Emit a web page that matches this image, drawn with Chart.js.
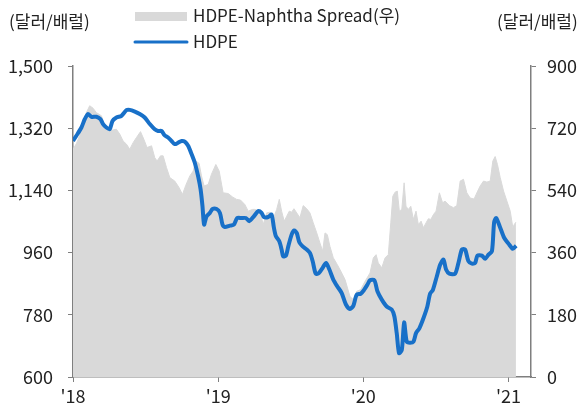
<!DOCTYPE html>
<html>
<head>
<meta charset="utf-8">
<script src="https://cdn.jsdelivr.net/npm/chart.js@4"></script>
<style>
  body { margin: 0; background: #fff; }
  #wrap { width: 585px; height: 409px; position: relative; }
</style>
</head>
<body>
<div id="wrap"><canvas id="myChart" width="585" height="409"></canvas></div>
<script>
'use strict';

// ***** DATA (x = decimal year) *****
let hdpeDates = [
  2018.000, 2018.023, 2018.058, 2018.081, 2018.103, 2018.127, 2018.161, 2018.189, 2018.207, 2018.230,
  2018.253, 2018.272, 2018.299, 2018.334, 2018.368, 2018.391, 2018.426, 2018.460, 2018.494, 2018.529,
  2018.563, 2018.586, 2018.610, 2018.630, 2018.655, 2018.679, 2018.701, 2018.724, 2018.748, 2018.770,
  2018.793, 2018.817, 2018.839, 2018.862, 2018.879, 2018.892, 2018.903, 2018.920, 2018.943, 2018.961,
  2018.989, 2019.012, 2019.030, 2019.046, 2019.081, 2019.108, 2019.131, 2019.161, 2019.191, 2019.214,
  2019.246, 2019.276, 2019.299, 2019.315, 2019.345, 2019.368, 2019.384, 2019.398, 2019.421, 2019.437,
  2019.448, 2019.467, 2019.483, 2019.506, 2019.524, 2019.541, 2019.559, 2019.582, 2019.610, 2019.632,
  2019.651, 2019.672, 2019.694, 2019.720, 2019.743, 2019.766, 2019.793, 2019.821, 2019.851, 2019.881,
  2019.908, 2019.931, 2019.954, 2019.982, 2020.005, 2020.028, 2020.046, 2020.076, 2020.097, 2020.127,
  2020.161, 2020.196, 2020.214, 2020.230, 2020.246, 2020.265, 2020.281, 2020.299, 2020.322, 2020.345,
  2020.363, 2020.386, 2020.414, 2020.441, 2020.460, 2020.479, 2020.506, 2020.529, 2020.552, 2020.570,
  2020.593, 2020.632, 2020.655, 2020.679, 2020.701, 2020.724, 2020.748, 2020.770, 2020.786, 2020.817,
  2020.839, 2020.862, 2020.886, 2020.901, 2020.915, 2020.943, 2020.970, 2021.000, 2021.030, 2021.053
];
let hdpeValues = [
  1283, 1298, 1322, 1346, 1361, 1353, 1353, 1346, 1332, 1322,
  1317, 1341, 1351, 1356, 1372, 1373, 1368, 1361, 1351, 1332,
  1317, 1312, 1312, 1300, 1293, 1283, 1274, 1278, 1283, 1281,
  1269, 1245, 1220, 1181, 1143, 1094, 1041, 1065, 1075, 1086,
  1086, 1075, 1041, 1034, 1038, 1041, 1060, 1060, 1060, 1051,
  1065, 1080, 1075, 1063, 1063, 1070, 1032, 1007, 993, 969,
  949, 951, 978, 1012, 1024, 1017, 990, 978, 969, 959,
  935, 899, 901, 916, 930, 911, 882, 862, 843, 809,
  797, 806, 838, 841, 852, 867, 880, 880, 848, 824,
  804, 795, 775, 727, 669, 678, 758, 702, 699, 702,
  727, 741, 770, 804, 841, 852, 891, 925, 940, 911,
  899, 899, 930, 969, 969, 935, 928, 930, 951, 951,
  942, 954, 964, 1048, 1060, 1032, 1003, 986, 971, 980
];

let spreadDates = [
  2018.000, 2018.023, 2018.058, 2018.092, 2018.115, 2018.138, 2018.161, 2018.196, 2018.219, 2018.241,
  2018.265, 2018.299, 2018.322, 2018.345, 2018.368, 2018.391, 2018.414, 2018.437, 2018.465, 2018.488,
  2018.510, 2018.541, 2018.563, 2018.579, 2018.603, 2018.621, 2018.644, 2018.667, 2018.701, 2018.731,
  2018.754, 2018.777, 2018.805, 2018.828, 2018.846, 2018.869, 2018.885, 2018.903, 2018.931, 2018.954,
  2018.984, 2019.007, 2019.034, 2019.069, 2019.099, 2019.127, 2019.154, 2019.184, 2019.207, 2019.237,
  2019.253, 2019.288, 2019.310, 2019.334, 2019.357, 2019.379, 2019.403, 2019.421, 2019.437, 2019.455,
  2019.472, 2019.490, 2019.506, 2019.522, 2019.541, 2019.563, 2019.586, 2019.610, 2019.632, 2019.655,
  2019.679, 2019.701, 2019.720, 2019.736, 2019.752, 2019.770, 2019.793, 2019.821, 2019.839, 2019.874,
  2019.908, 2019.931, 2019.954, 2019.982, 2020.012, 2020.046, 2020.069, 2020.088, 2020.103, 2020.127,
  2020.150, 2020.172, 2020.189, 2020.203, 2020.219, 2020.234, 2020.248, 2020.265, 2020.281, 2020.294,
  2020.310, 2020.327, 2020.345, 2020.363, 2020.379, 2020.398, 2020.414, 2020.432, 2020.448, 2020.465,
  2020.483, 2020.501, 2020.524, 2020.546, 2020.563, 2020.593, 2020.621, 2020.644, 2020.667, 2020.690,
  2020.713, 2020.736, 2020.763, 2020.782, 2020.805, 2020.828, 2020.851, 2020.874, 2020.892, 2020.908,
  2020.924, 2020.943, 2020.966, 2020.989, 2021.012, 2021.030, 2021.039, 2021.051
];
let spreadValues = [
  659, 675, 712, 765, 785, 778, 765, 756, 727, 712,
  714, 717, 703, 683, 674, 659, 678, 693, 710, 688,
  664, 669, 635, 625, 640, 640, 606, 577, 567, 548,
  528, 555, 582, 596, 625, 618, 582, 553, 557, 587,
  615, 596, 533, 531, 521, 514, 512, 499, 480, 485,
  485, 480, 441, 475, 477, 456, 485, 514, 480, 451,
  465, 480, 477, 487, 475, 461, 496, 487, 475, 446,
  417, 388, 364, 417, 412, 378, 345, 325, 311, 282,
  233, 224, 248, 253, 277, 301, 345, 354, 330, 316,
  345, 354, 446, 523, 535, 538, 480, 485, 562, 494,
  485, 494, 456, 480, 441, 451, 432, 446, 458, 456,
  470, 480, 533, 504, 509, 496, 490, 496, 567, 572,
  533, 518, 515, 533, 553, 567, 564, 567, 625, 638,
  615, 577, 538, 509, 480, 432, 441, 448
];

// axis ticks
let xTicks = [2018, 2019, 2020, 2021];
let leftTicks = [600, 780, 960, 1140, 1320, 1500];
let rightTicks = [0, 180, 360, 540, 720, 900];

let seriesNames = ['HDPE-Naphtha Spread(우)', 'HDPE'];
let unitLabel = '(달러/배럴)';

// ***** BUILD *****
const FONT = "'Noto Sans CJK KR', 'Noto Sans', sans-serif";
const AXIS_GRAY = '#7f7f7f';
const BLUE = '#1870c8';
const AREA_GRAY = '#d9d9d9';

function toPoints(xs, ys) {
  let pts = [];
  for (let i = 0; i < xs.length; i++) {
    pts.push({ x: xs[i], y: ys[i] });
  }
  return pts;
}

// legend + unit labels drawn on top
const labelsPlugin = {
  id: 'labels',
  afterDraw(chart) {
    const c = chart.ctx;
    c.save();
    c.font = '17px ' + FONT;
    c.fillStyle = '#222';
    c.textBaseline = 'middle';
    c.textAlign = 'left';
    c.fillText(unitLabel, 9, 22);
    c.fillText(unitLabel, 497, 22);

    c.fillStyle = AREA_GRAY;
    c.fillRect(135, 12, 52, 9);
    c.fillStyle = '#222';
    c.fillText(seriesNames[0], 193, 16);

    c.strokeStyle = BLUE;
    c.lineWidth = 3;
    c.lineCap = 'round';
    c.beginPath();
    c.moveTo(135, 42);
    c.lineTo(187, 42);
    c.stroke();
    c.fillText(seriesNames[1], 193, 42);
    c.restore();
  }
};

const ctx = document.getElementById('myChart').getContext('2d');

const chartObj = {
  type: 'line',
  data: {
    datasets: [
      {
        label: seriesNames[1],
        data: toPoints(hdpeDates, hdpeValues),
        yAxisID: 'y',
        borderColor: BLUE,
        borderWidth: 4,
        pointRadius: 0,
        tension: 0.25,
        fill: false,
        order: 1
      },
      {
        label: seriesNames[0],
        data: toPoints(spreadDates, spreadValues),
        yAxisID: 'y1',
        borderColor: AREA_GRAY,
        borderWidth: 1,
        backgroundColor: AREA_GRAY,
        pointRadius: 0,
        tension: 0,
        fill: 'start',
        order: 2
      }
    ]
  },
  options: {
    responsive: false,
    animation: false,
    layout: { padding: { top: 66, left: 0, right: 0, bottom: 0 } },
    plugins: {
      legend: { display: false },
      tooltip: { enabled: false }
    },
    scales: {
      x: {
        type: 'linear',
        min: 2018,
        max: 2021.155,
        afterFit(s) { s.height = 32; },
        afterBuildTicks(s) { s.ticks = xTicks.map(v => ({ value: v })); },
        grid: { display: true, drawOnChartArea: false, drawTicks: true, tickLength: 5, color: AXIS_GRAY },
        border: { display: true, color: AXIS_GRAY, width: 1.5 },
        ticks: {
          padding: 3,
          color: '#222',
          font: { family: FONT, size: 18 },
          maxRotation: 0,
          callback: v => "'" + String(Math.round(v)).slice(2)
        }
      },
      y: {
        position: 'left',
        min: 600,
        max: 1500,
        afterFit(s) { s.width = 73; },
        afterBuildTicks(s) { s.ticks = leftTicks.map(v => ({ value: v })); },
        grid: { display: true, drawOnChartArea: false, drawTicks: true, tickLength: 5, color: AXIS_GRAY },
        border: { display: true, color: AXIS_GRAY, width: 1.5 },
        ticks: {
          padding: 15,
          color: '#222',
          font: { family: FONT, size: 18 },
          callback: v => v.toLocaleString('en-US')
        }
      },
      y1: {
        position: 'right',
        min: 0,
        max: 900,
        afterFit(s) { s.width = 54; },
        afterBuildTicks(s) { s.ticks = rightTicks.map(v => ({ value: v })); },
        grid: { display: true, drawOnChartArea: false, drawTicks: true, tickLength: 5, color: AXIS_GRAY },
        border: { display: true, color: AXIS_GRAY, width: 1.5 },
        ticks: {
          padding: 11,
          color: '#222',
          font: { family: FONT, size: 18 }
        }
      }
    }
  },
  plugins: [labelsPlugin]
};

const myChart = new Chart(ctx, chartObj); // eslint-disable-line
</script>
</body>
</html>
